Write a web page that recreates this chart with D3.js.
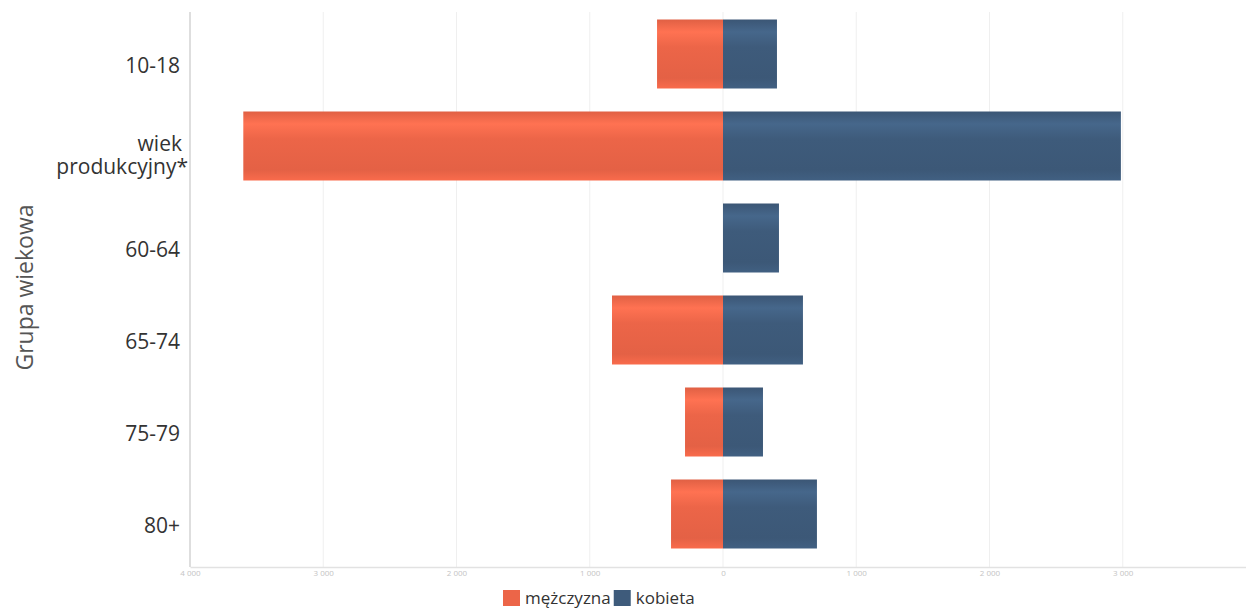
<!DOCTYPE html>
<html>
<head>
<meta charset="utf-8">
<script src="https://cdn.jsdelivr.net/npm/d3@7"></script>
<style>
  html, body { margin: 0; padding: 0; background: #ffffff; }
  svg { display: block; font-family: "Open Sans", "Noto Sans", sans-serif; }
</style>
</head>
<body>
<svg id="chart" width="1246" height="613"></svg>
<script>
// ---- data ----
const categories = ["10-18", "wiek produkcyjny*", "60-64", "65-74", "75-79", "80+"];
const maleValues = [495, 3600, 0, 833, 285, 390];      // mężczyzna (drawn to the left)
const femaleValues = [405, 2986, 420, 600, 300, 705];  // kobieta (drawn to the right)
const tickValues = [-4000, -3000, -2000, -1000, 0, 1000, 2000, 3000, 4000];
const seriesNames = ["mężczyzna", "kobieta"];
const axisTitle = "Grupa wiekowa";

// ---- layout ----
const W = 1246, H = 613;
const plot = { left: 190, right: 1256, top: 8, bottom: 567 };
const colors = { male: "#ec6548", female: "#3e5b7b" };

const svg = d3.select("#chart");
const defs = svg.append("defs");

function addGradient(id, base) {
  const c = d3.color(base);
  const g = defs.append("linearGradient").attr("id", id)
    .attr("x1", 0).attr("y1", 0).attr("x2", 0).attr("y2", 1);
  g.append("stop").attr("offset", "0%").attr("stop-color", c.darker(0.15));
  g.append("stop").attr("offset", "18%").attr("stop-color", c.brighter(0.35));
  g.append("stop").attr("offset", "40%").attr("stop-color", base);
  g.append("stop").attr("offset", "85%").attr("stop-color", c.darker(0.1));
  g.append("stop").attr("offset", "100%").attr("stop-color", c.brighter(0.15));
}
addGradient("gMale", colors.male);
addGradient("gFemale", colors.female);

const x = d3.scaleLinear().domain([-4000, 4000]).range([plot.left, plot.right]);
const y = d3.scaleBand().domain(categories).range([plot.top, 560])
  .paddingInner(0.25).paddingOuter(0.125);

// vertical grid lines
svg.append("g").selectAll("line").data(tickValues.filter(v => v !== -4000)).join("line")
  .attr("x1", d => x(d)).attr("x2", d => x(d))
  .attr("y1", 12).attr("y2", plot.bottom)
  .attr("stroke", "#efefef").attr("stroke-width", 1);

// x axis (bottom line + faint tick labels, only those inside the view)
const xAxis = d3.axisBottom(x).tickValues(tickValues.filter(v => x(v) < W - 20))
  .tickSize(0).tickPadding(3)
  .tickFormat(d => d3.format(",")(Math.abs(d)).replace(/,/g, " "));
const gx = svg.append("g").attr("transform", `translate(0,${plot.bottom})`).call(xAxis);
gx.select(".domain").attr("stroke", "#e2e2e2").attr("stroke-width", 1.5);
gx.selectAll("text").attr("fill", "#c4c4c4").style("font-size", "8px")
  .style("font-family", "'Open Sans', sans-serif");

// y axis line
svg.append("line")
  .attr("x1", plot.left).attr("x2", plot.left)
  .attr("y1", 12).attr("y2", plot.bottom)
  .attr("stroke", "#dedede").attr("stroke-width", 2);

// bars
const rows = categories.map((c, i) => ({ cat: c, m: maleValues[i], f: femaleValues[i] }));
const gb = svg.append("g");
gb.selectAll("rect.m").data(rows.filter(r => r.m > 0)).join("rect")
  .attr("class", "m")
  .attr("x", d => x(-d.m)).attr("width", d => x(0) - x(-d.m))
  .attr("y", d => y(d.cat)).attr("height", y.bandwidth())
  .attr("fill", "url(#gMale)");
gb.selectAll("rect.f").data(rows.filter(r => r.f > 0)).join("rect")
  .attr("class", "f")
  .attr("x", x(0)).attr("width", d => x(d.f) - x(0))
  .attr("y", d => y(d.cat)).attr("height", y.bandwidth())
  .attr("fill", "url(#gFemale)");

// category labels
const yAxis = d3.axisLeft(y).tickSize(0).tickPadding(10);
const gy = svg.append("g").attr("transform", `translate(${plot.left},0)`).call(yAxis);
gy.select(".domain").remove();
gy.selectAll("text").remove();
gy.selectAll(".tick").each(function(d) {
  const t = d3.select(this).append("text")
    .attr("text-anchor", "end").attr("fill", "#333")
    .style("font-size", "21px").style("font-family", "'Open Sans', sans-serif");
  if (d === "wiek produkcyjny*") {
    t.append("tspan").attr("x", -8).attr("y", 5).text("wiek");
    t.append("tspan").attr("x", -2).attr("y", 28).text("produkcyjny*");
  } else {
    t.attr("x", -10).attr("y", 18.5).text(d);
  }
});

// y axis title
svg.append("text")
  .attr("transform", `translate(33,287.5) rotate(-90)`)
  .attr("text-anchor", "middle")
  .attr("fill", "#555").style("font-size", "23px")
  .text(axisTitle);

// legend
const legend = svg.append("g").attr("transform", "translate(503,590)");
const legendColors = [colors.male, colors.female];
let lx = 0;
seriesNames.forEach((name, i) => {
  legend.append("rect").attr("x", lx).attr("y", 0).attr("width", 17).attr("height", 16)
    .attr("fill", legendColors[i]);
  const t = legend.append("text").attr("x", lx + 22).attr("y", 14)
    .attr("fill", "#333").style("font-size", "17px").text(name);
  lx += 22 + t.node().getComputedTextLength() + 3;
});
</script>
</body>
</html>
